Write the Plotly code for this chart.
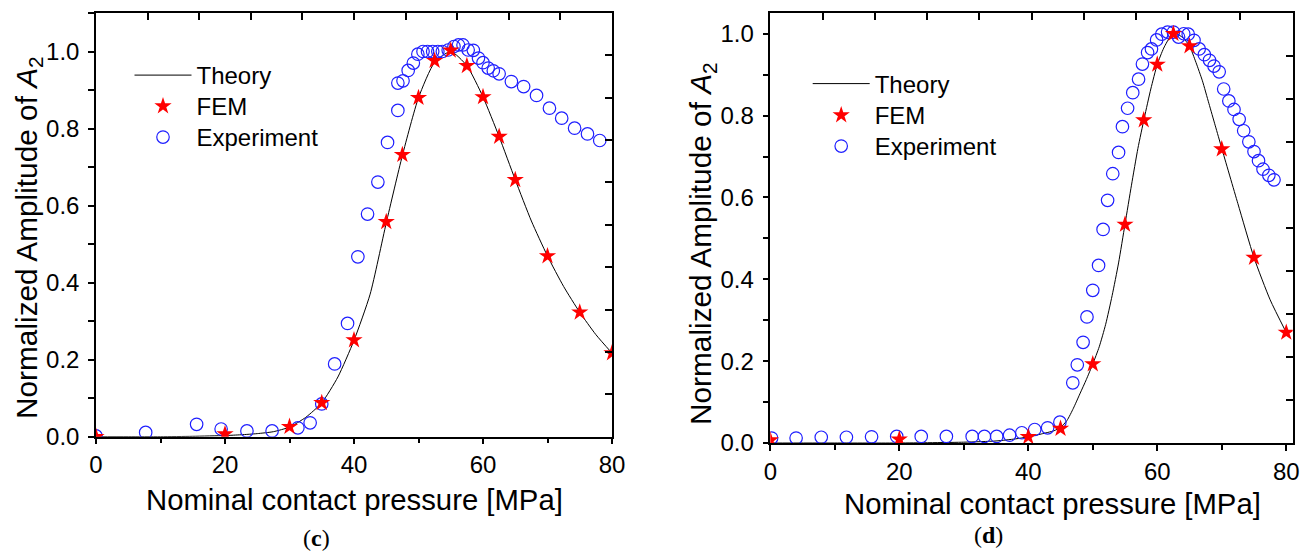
import plotly.graph_objects as go

# ---------------- data (c) ----------------
theory_c_x = [0, 5, 10, 15, 20, 22.5, 25, 27.5, 30, 32.5, 35, 37.5, 40, 42.5, 45, 47.5, 50,
              52.5, 55, 57.5, 60, 62.5, 65, 67.5, 70, 72.5, 75, 77.5, 80]
theory_c_y = [0, 0, 0, 0.001, 0.003, 0.005, 0.008, 0.013, 0.025, 0.05, 0.088, 0.155, 0.25,
              0.37, 0.555, 0.73, 0.88, 0.972, 1.0, 0.963, 0.882, 0.779, 0.667, 0.56, 0.469,
              0.39, 0.323, 0.265, 0.217]
fem_c_x = [0, 20, 30, 35, 40, 45, 47.5, 50, 52.5, 55, 57.5, 60, 62.5, 65, 70, 75, 80]
fem_c_y = [0.0, 0.007, 0.026, 0.088, 0.251, 0.558, 0.732, 0.88, 0.976, 1.003, 0.963, 0.882,
           0.779, 0.667, 0.469, 0.323, 0.217]
exp_c_x = [0, 7.7, 15.6, 19.4, 23.4, 27.3, 31.3, 33.2, 35.0, 37.0, 39.0, 40.6, 42.1, 43.7,
           45.2, 46.8, 46.8, 47.6, 48.4, 49.2, 49.9, 50.7, 51.4, 52.2, 53.0, 53.7, 54.6, 55.5,
           56.2, 56.9, 57.7, 58.5, 59.3, 60.0, 60.8, 61.6, 62.5, 64.4, 66.3, 68.3, 70.3, 72.2,
           74.2, 76.2, 78.1]
exp_c_y = [0.002, 0.011, 0.032, 0.020, 0.015, 0.015, 0.023, 0.036, 0.085, 0.189, 0.294, 0.467,
           0.578, 0.661, 0.764, 0.847, 0.918, 0.924, 0.951, 0.970, 0.993, 1.0, 1.0, 1.0, 1.0,
           1.0, 1.004, 1.013, 1.017, 1.017, 1.004, 1.003, 0.983, 0.971, 0.957, 0.950, 0.942,
           0.922, 0.909, 0.886, 0.853, 0.827, 0.801, 0.786, 0.769]

# ---------------- data (d) ----------------
theory_d_x = [0, 10, 20, 30, 35, 38, 40, 42, 44, 45, 46, 47, 48, 49, 50, 51, 52, 53, 54, 55,
              56, 57, 58, 59, 60, 61, 62, 62.5, 63, 64, 65, 66, 67, 68, 69, 70, 72.5, 75, 77.5, 80]
theory_d_y = [0, 0, 0, 0.002, 0.005, 0.01, 0.015, 0.022, 0.03, 0.038, 0.055, 0.085, 0.12,
              0.155, 0.193, 0.235, 0.29, 0.36, 0.44, 0.535, 0.63, 0.72, 0.795, 0.865, 0.925,
              0.965, 0.993, 1.0, 1.0, 0.99, 0.97, 0.93, 0.885, 0.83, 0.775, 0.72, 0.585, 0.453,
              0.35, 0.27]
fem_d_x = [0, 20, 40, 45, 50, 55, 57.9, 60, 62.5, 65, 70, 75, 80]
fem_d_y = [0.007, 0.009, 0.015, 0.035, 0.193, 0.534, 0.789, 0.925, 1.0, 0.97, 0.718, 0.453, 0.27]
exp_d_x = [0.2, 4.0, 7.9, 11.8, 15.7, 19.6, 23.4, 27.3, 31.3, 33.2, 35.1, 37.1, 39.0, 41.0,
           43.0, 44.9, 46.9, 47.6, 48.5, 49.1, 50.0, 50.9, 51.6, 52.3, 53.1, 54.0, 54.6, 55.4,
           56.2, 57.1, 57.7, 58.5, 59.1, 59.9, 60.7, 61.6, 62.5, 63.3, 64.1, 64.8, 65.7, 66.5,
           67.3, 68.1, 68.8, 69.6, 70.3, 71.1, 71.9, 72.7, 73.4, 74.2, 75.0, 75.7, 76.4, 77.3,
           78.1]
exp_d_y = [0.012, 0.012, 0.014, 0.014, 0.015, 0.016, 0.016, 0.016, 0.016, 0.016, 0.016, 0.019,
           0.025, 0.033, 0.037, 0.051, 0.147, 0.191, 0.246, 0.308, 0.373, 0.434, 0.522, 0.593,
           0.658, 0.71, 0.773, 0.818, 0.856, 0.889, 0.926, 0.954, 0.963, 0.985, 0.999, 1.004,
           1.004, 0.992, 1.0, 0.999, 0.984, 0.963, 0.949, 0.935, 0.921, 0.907, 0.865, 0.836,
           0.815, 0.791, 0.763, 0.736, 0.712, 0.69, 0.669, 0.654, 0.643]

x_ticks = [0, 20, 40, 60, 80]
y_ticks = [0.0, 0.2, 0.4, 0.6, 0.8, 1.0]
y_ticklabels = ["0.0", "0.2", "0.4", "0.6", "0.8", "1.0"]

W, H = 1307, 554
FONT = "Liberation Sans, Arial, sans-serif"
STAR_C = "#ff0000"
CIRC_C = "#1f1fff"


def px_x(p):
    return p / W


def px_y(p):
    return 1 - p / H


fig = go.Figure()

# one legend per entry so each can be placed exactly
legend_tops = {  # legend name -> (left px, top px)
    "legend": (129.5, 53), "legend2": (129.5, 84), "legend3": (129.5, 115),
    "legend4": (807.7, 61.5), "legend5": (807.7, 93), "legend6": (807.7, 124),
}


def add_panel(xa, ya, tx, ty, fx, fy, ex, ey, lg_t, lg_f, lg_e):
    fig.add_trace(go.Scatter(x=tx, y=ty, mode="lines", name="Theory", xaxis=xa, yaxis=ya,
                             line=dict(color="black", width=1, shape="spline", smoothing=0.6),
                             legend=lg_t))
    fig.add_trace(go.Scatter(x=ex, y=ey, mode="markers", name="Experiment", xaxis=xa, yaxis=ya,
                             marker=dict(symbol="circle-open", size=12.5, color=CIRC_C,
                                         line=dict(width=1.2, color=CIRC_C)),
                             legend=lg_e))
    fig.add_trace(go.Scatter(x=fx, y=fy, mode="markers", name="FEM", xaxis=xa, yaxis=ya,
                             marker=dict(symbol="star", size=13, color=STAR_C,
                                         line=dict(width=0)),
                             legend=lg_f))


add_panel("x", "y", theory_c_x, theory_c_y, fem_c_x, fem_c_y, exp_c_x, exp_c_y,
          "legend", "legend2", "legend3")
add_panel("x2", "y2", theory_d_x, theory_d_y, fem_d_x, fem_d_y, exp_d_x, exp_d_y,
          "legend4", "legend5", "legend6")

# panel geometry (pixels)
L1, R1, T1, B1 = 96, 612, 13, 436.7
L2, R2, T2, B2 = 770.3, 1292.7, 13.3, 443.0

tickfont = dict(family=FONT, size=24, color="black")
common_x = dict(showline=True, linecolor="black", linewidth=1.5, ticks="outside", ticklen=6,
                tickwidth=1.5, tickcolor="black", tickvals=x_ticks, tickfont=tickfont,
                showgrid=False, zeroline=False, automargin=False,
                minor=dict(dtick=10, ticks="outside", ticklen=5, tickwidth=1.5,
                           tickcolor="black", showgrid=False))
common_y = dict(showline=True, linecolor="black", linewidth=1.5, ticks="outside", ticklen=6,
                tickwidth=1.5, tickcolor="black", tickvals=y_ticks, ticktext=y_ticklabels,
                tickfont=tickfont, showgrid=False, zeroline=False, automargin=False,
                ticklabelstandoff=4,
                minor=dict(dtick=0.1, ticks="outside", ticklen=6, tickwidth=1.5,
                           tickcolor="black", showgrid=False))
mirror = dict(ticks="inside", ticklen=7, tickwidth=1.5, tickcolor="black",
              showticklabels=False, showline=True, linecolor="black", linewidth=1.5,
              showgrid=False, zeroline=False, automargin=False)

legend_style = dict(xanchor="left", yanchor="top", bgcolor="rgba(0,0,0,0)", borderwidth=0,
                    itemwidth=57, font=dict(family=FONT, size=24, color="black"))
legends = {name: dict(x=px_x(l), y=px_y(t), **legend_style)
           for name, (l, t) in legend_tops.items()}

fig.update_layout(
    template="none",
    xaxis=dict(domain=[px_x(L1), px_x(R1)], range=[0, 80], anchor="y", **common_x),
    yaxis=dict(domain=[px_y(B1), px_y(T1)], range=[0, 1.1], anchor="x", **common_y),
    xaxis2=dict(domain=[px_x(L2), px_x(R2)], range=[0, 81], anchor="y2", **common_x),
    yaxis2=dict(domain=[px_y(B2), px_y(T2)], range=[0, 1.05], anchor="x2", **common_y),
    # mirror axes with inward ticks (top / right)
    xaxis3=dict(overlaying="x", anchor="y", side="top", range=[0, 80],
                tickvals=[8 * i for i in range(11)], **mirror),
    yaxis3=dict(overlaying="y", anchor="x", side="right", range=[0, 1.1],
                tickvals=[0.11 * i for i in range(11)], **mirror),
    xaxis4=dict(overlaying="x2", anchor="y2", side="top", range=[0, 81],
                tickvals=[8.1 * i for i in range(11)], **mirror),
    yaxis4=dict(overlaying="y2", anchor="x2", side="right", range=[0, 1.05],
                tickvals=[0.105 * i for i in range(11)], **mirror),
    width=W, height=H, autosize=False,
    margin=dict(l=0, r=0, t=0, b=0, autoexpand=False),
    paper_bgcolor="white", plot_bgcolor="white",
    showlegend=True,
    **legends,
)

# invisible traces so the mirror axes are drawn
for xa, ya in (("x3", "y3"), ("x4", "y4")):
    fig.add_trace(go.Scatter(x=[None], y=[None], xaxis=xa, yaxis=ya, showlegend=False,
                             hoverinfo="skip"))

xt_font = dict(family=FONT, size=29.3, color="black")
yt_font = dict(family=FONT, size=29.8, color="black")
annos = [
    dict(text="Nominal contact pressure [MPa]", x=px_x(354), y=px_y(500), font=xt_font),
    dict(text="Nominal contact pressure [MPa]", x=px_x(1052), y=px_y(503), font=xt_font),
    dict(text="Normalized Amplitude of <i>A</i><sub>2</sub>", x=px_x(28), y=px_y(238),
         textangle=-90, font=yt_font),
    dict(text="Normalized Amplitude of <i>A</i><sub>2</sub>", x=px_x(702), y=px_y(244),
         textangle=-90, font=yt_font),
]
for a in annos:
    fig.add_annotation(xref="paper", yref="paper", showarrow=False, xanchor="center",
                       yanchor="middle", **a)

serif = dict(family="Liberation Serif, Times New Roman, serif", size=24, color="black")
fig.add_annotation(text="(<b>c</b>)", x=px_x(316), y=px_y(538), xref="paper", yref="paper",
                   showarrow=False, font=serif, xanchor="center", yanchor="middle")
fig.add_annotation(text="(<b>d</b>)", x=px_x(988), y=px_y(535), xref="paper", yref="paper",
                   showarrow=False, font=serif, xanchor="center", yanchor="middle")

fig.write_html("out.html")
